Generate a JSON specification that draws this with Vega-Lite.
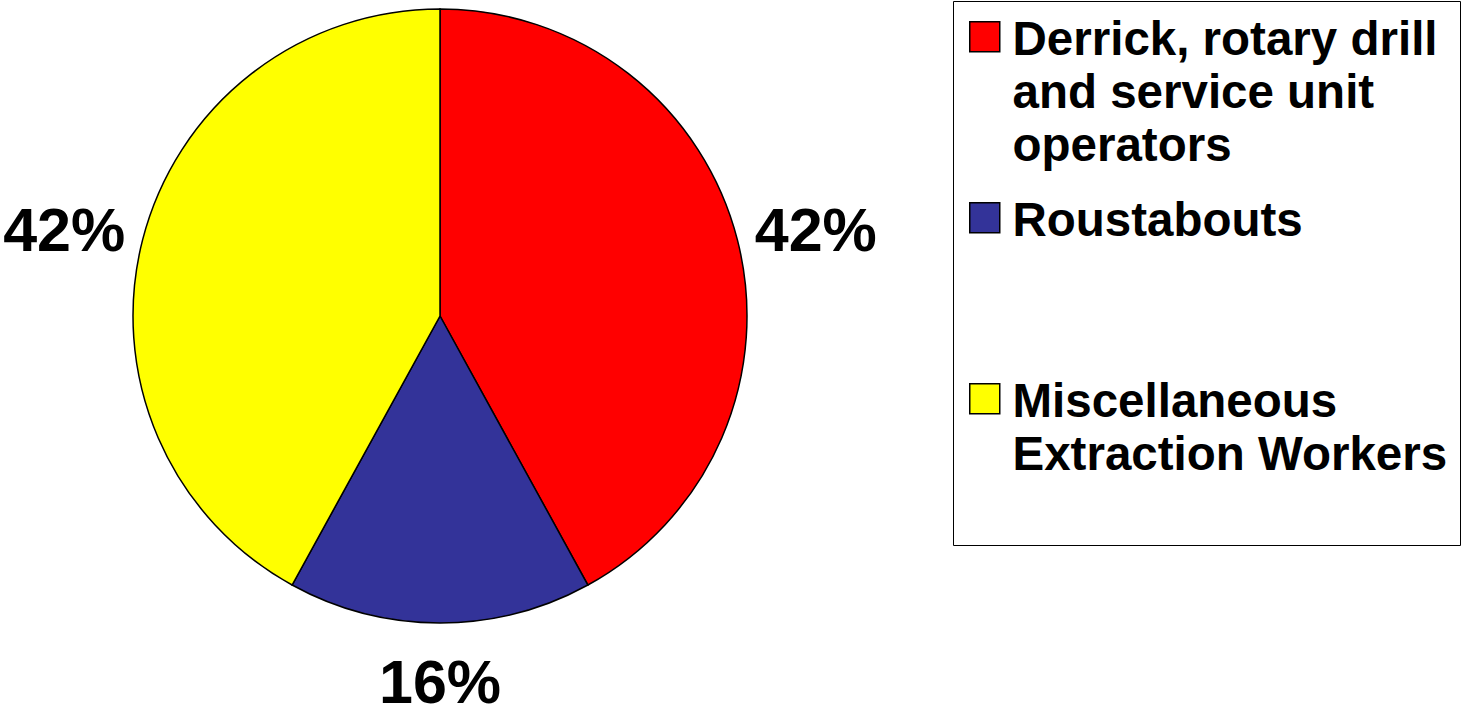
{
  "$schema": "https://vega.github.io/schema/vega-lite/v6.json",
  "width": 880,
  "height": 630,
  "padding": 0,
  "background": "white",
  "data": {
    "values": [
      {"occupation": "Derrick, rotary drill and service unit operators", "share": 42, "label": "42%", "idx": 1},
      {"occupation": "Roustabouts", "share": 16, "label": "16%", "idx": 2},
      {"occupation": "Miscellaneous Extraction Workers", "share": 42, "label": "42%", "idx": 3}
    ]
  },
  "encoding": {
    "theta": {"field": "share", "type": "quantitative", "stack": true},
    "order": {"field": "idx", "type": "quantitative"}
  },
  "layer": [
    {
      "mark": {"type": "arc", "outerRadius": 307, "stroke": "black", "strokeWidth": 1.5},
      "encoding": {
        "color": {
          "field": "occupation",
          "type": "nominal",
          "sort": ["Derrick, rotary drill and service unit operators", "Roustabouts", "Miscellaneous Extraction Workers"],
          "scale": {
            "domain": ["Derrick, rotary drill and service unit operators", "Roustabouts", "Miscellaneous Extraction Workers"],
            "range": ["#FF0000", "#333399", "#FFFF00"]
          },
          "legend": {
            "title": null,
            "orient": "right",
            "offset": 73,
            "symbolType": "square",
            "symbolSize": 900,
            "symbolStrokeColor": "black",
            "symbolStrokeWidth": 1.5,
            "symbolOpacity": 1,
            "symbolOffset": -4,
            "labelFont": "Liberation Sans",
            "labelFontWeight": "bold",
            "labelFontSize": 47.5,
            "labelColor": "black",
            "labelLimit": 800,
            "labelOffset": 4,
            "labelBaseline": "top",
            "strokeColor": "black",
            "fillColor": "white",
            "padding": 12,
            "rowPadding": 23,
            "labelExpr": "datum.label == 'Roustabouts' ? ['Roustabouts', '', ''] : datum.label == 'Miscellaneous Extraction Workers' ? ['Miscellaneous', 'Extraction Workers', ''] : ['Derrick, rotary drill', 'and service unit', 'operators']",
            "encode": {"labels": {"update": {"dy": {"value": -20}}}}
          }
        }
      }
    },
    {
      "mark": {"type": "text", "radius": 388, "dy": 13, "font": "Liberation Sans", "fontWeight": "bold", "fontSize": 61, "color": "black", "align": "center", "baseline": "middle"},
      "encoding": {
        "text": {"condition": {"test": "datum.idx != 2", "field": "label"}, "value": ""}
      }
    },
    {
      "mark": {"type": "text", "radius": 369, "font": "Liberation Sans", "fontWeight": "bold", "fontSize": 61, "color": "black", "align": "center", "baseline": "middle"},
      "encoding": {
        "text": {"condition": {"test": "datum.idx == 2", "field": "label"}, "value": ""}
      }
    }
  ],
  "config": {
    "view": {"stroke": null},
    "style": {"guide-label": {"lineHeight": 53}}
  }
}
